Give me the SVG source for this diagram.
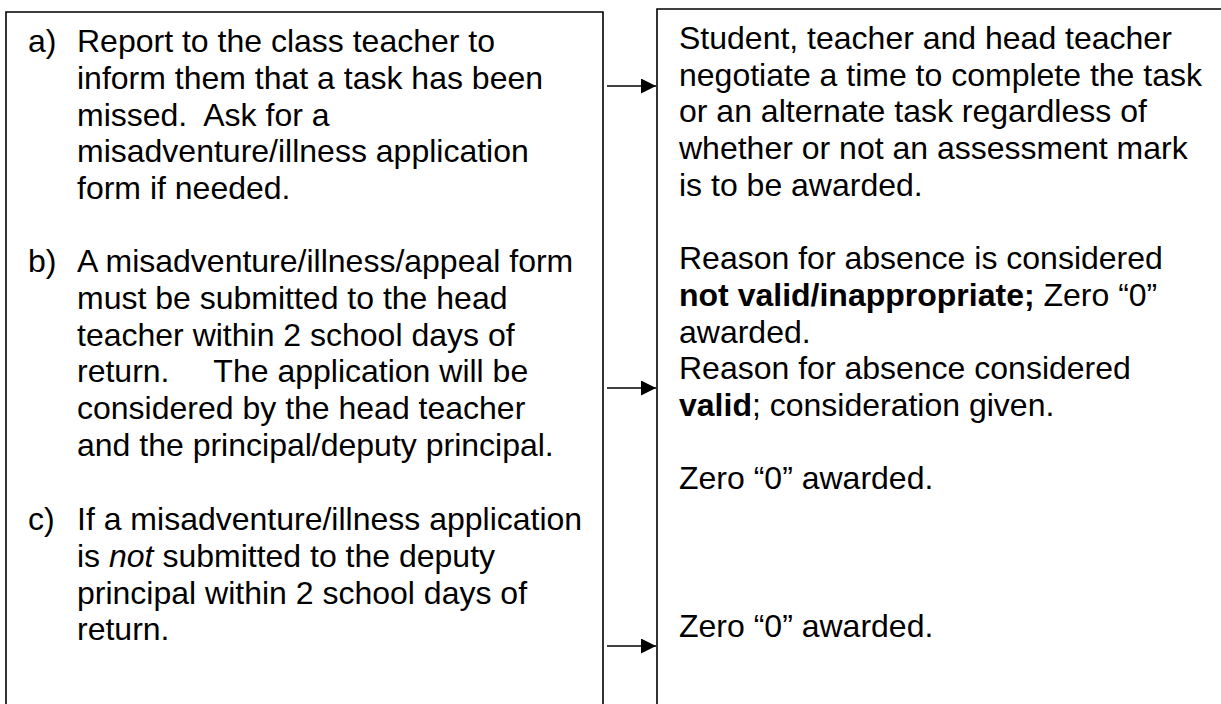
<svg xmlns="http://www.w3.org/2000/svg" width="1221" height="704" viewBox="0 0 1221 704">
<defs>
<style>
.box{fill:none;stroke:#000;stroke-width:1.6}
.t{font-family:"Liberation Sans",Arial,sans-serif;font-size:32px;fill:#000}
.b{font-weight:bold}
.i{font-style:italic}
.c{stroke:#000;stroke-width:1.6;fill:none}
</style>
<marker id="ah" viewBox="0 0 10 10" refX="10" refY="5" markerWidth="15" markerHeight="15" markerUnits="userSpaceOnUse" orient="auto">
<path d="M0,0 L10,5 L0,10 Z" fill="#000"/>
</marker>
</defs>
<rect width="1221" height="704" fill="#fff"/>
<g id="left-box">
<path class="box" d="M6,706 V12 H603 V706"/>
<text class="t" x="28" y="52">a)</text>
<text class="t" x="77" y="52">Report to the class teacher to</text>
<text class="t" x="77" y="88.8">inform them that a task has been</text>
<text class="t" x="77" y="125.6" xml:space="preserve">missed.  Ask for a</text>
<text class="t" x="77" y="162.4">misadventure/illness application</text>
<text class="t" x="77" y="199.2">form if needed.</text>
<text class="t" x="28" y="272">b)</text>
<text class="t" x="77" y="272">A misadventure/illness/appeal form</text>
<text class="t" x="77" y="308.8">must be submitted to the head</text>
<text class="t" x="77" y="345.6">teacher within 2 school days of</text>
<text class="t" x="77" y="382.4" xml:space="preserve">return.     The application will be</text>
<text class="t" x="77" y="419.2">considered by the head teacher</text>
<text class="t" x="77" y="456">and the principal/deputy principal.</text>
<text class="t" x="28" y="530">c)</text>
<text class="t" x="77" y="530">If a misadventure/illness application</text>
<text class="t" x="77" y="566.8">is <tspan class="i">not</tspan> submitted to the deputy</text>
<text class="t" x="77" y="603.6">principal within 2 school days of</text>
<text class="t" x="77" y="640.4">return.</text>
</g>
<g id="right-box">
<path class="box" d="M657,706 V9 H1225"/>
<text class="t" x="679" y="49">Student, teacher and head teacher</text>
<text class="t" x="679" y="85.7">negotiate a time to complete the task</text>
<text class="t" x="679" y="122.4">or an alternate task regardless of</text>
<text class="t" x="679" y="159.1">whether or not an assessment mark</text>
<text class="t" x="679" y="195.8">is to be awarded.</text>
<text class="t" x="679" y="269.2">Reason for absence is considered</text>
<text class="t" x="679" y="305.9"><tspan class="b">not valid/inappropriate;</tspan> Zero “0”</text>
<text class="t" x="679" y="342.6">awarded.</text>
<text class="t" x="679" y="379.3">Reason for absence considered</text>
<text class="t" x="679" y="416"><tspan class="b">valid</tspan>; consideration given.</text>
<text class="t" x="679" y="489.4">Zero “0” awarded.</text>
<text class="t" x="679" y="636.5">Zero “0” awarded.</text>
</g>
<g id="connectors">
<line class="c" x1="607" y1="86" x2="656" y2="86" marker-end="url(#ah)"/>
<line class="c" x1="607" y1="388" x2="656" y2="388" marker-end="url(#ah)"/>
<line class="c" x1="607" y1="646" x2="656" y2="646" marker-end="url(#ah)"/>
</g>
</svg>
